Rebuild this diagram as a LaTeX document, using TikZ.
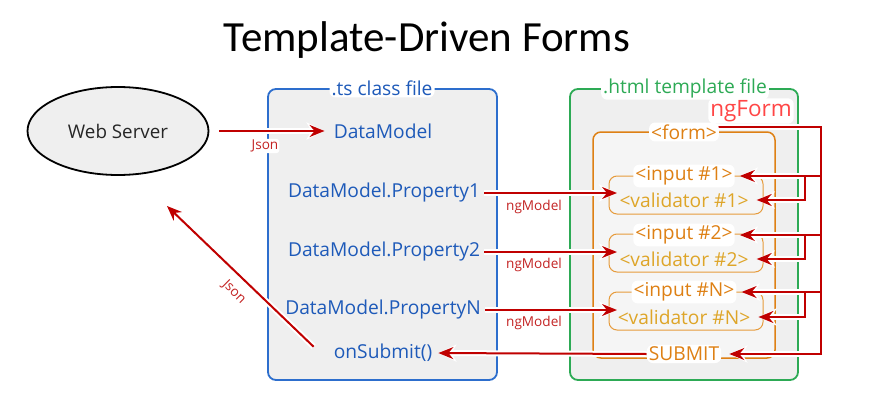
\documentclass[tikz,border=0pt]{standalone}
\usepackage{fontspec}
\setmainfont{Open Sans}
\newfontfamily\titlefont{Carlito}
\usetikzlibrary{shapes.geometric,arrows.meta,calc}
\pgfdeclarelayer{bg}
\pgfdeclarelayer{mid}
\pgfsetlayers{bg,mid,main}
\definecolor{tsblue}{RGB}{45,110,205}
\definecolor{txtblue}{RGB}{30,90,185}
\definecolor{hgreen}{RGB}{45,170,85}
\definecolor{forange}{RGB}{222,128,20}
\definecolor{vgold}{RGB}{222,165,40}
\definecolor{ibord}{RGB}{230,155,60}
\definecolor{wred}{RGB}{192,0,0}
\definecolor{ngred}{RGB}{255,70,70}
\definecolor{lblred}{RGB}{195,35,35}
\definecolor{boxgray}{RGB}{239,239,239}
\definecolor{formgray}{RGB}{245,245,245}
\newcommand\wirepaths[1]{%
  \draw[#1, shorten <=10pt, shorten >=7pt] (ws.east) -- (dm.west);
  \draw[#1, shorten <=2pt, shorten >=-8pt] (p1.east) -- (p1.east -| b1.west);
  \draw[#1, shorten <=2pt, shorten >=-8pt] (p2.east) -- (p2.east -| b2.west);
  \draw[#1, shorten <=2pt, shorten >=-8pt] (pn.east) -- (pn.east -| bn.west);
  \draw[#1, shorten >=4pt] (sub.west) -- (os.east);
  \draw[#1, shorten <=25pt] (os.south west) -- (jret);
  \draw[#1, shorten >=8pt] (ngs) -- (busT) -- (busT |- sub.east) -- (sub.east);
  \draw[#1, shorten >=5pt] (busT |- i1.east) -- (i1.east);
  \draw[#1, shorten >=5pt] (busT |- i2.east) -- (i2.east);
  \draw[#1, shorten >=5pt] (busT |- in.east) -- (in.east);
  \draw[#1, shorten >=6pt] (brx |- i1.east) |- (v1.east);
  \draw[#1, shorten >=6pt] (brx |- i2.east) |- (v2.east);
  \draw[#1, shorten >=6pt] (brx |- in.east) |- (vn.east);
}
\begin{document}
\begin{tikzpicture}[x=1pt,y=-1pt,
  box/.style={rounded corners=8pt, anchor=north west, inner sep=0pt, outer sep=0pt},
  txt/.style={font=\fontsize{19.2}{22}\selectfont, inner sep=2pt},
  lbl/.style={txt, fill=white, rounded corners=6pt},
  small/.style={font=\fontsize{13.6}{15}\selectfont, text=lblred, inner sep=1pt},
  haloA/.style={draw=white, line width=6pt, -{Stealth[length=18pt,width=17pt,inset=5pt]}},
  redA/.style={draw=wred, line width=2pt, -{Stealth[length=15pt,width=12pt,inset=5pt]}}
]
\useasboundingbox (0,0) rectangle (885,404);

% title
\node[font=\titlefont\fontsize{43}{46}\selectfont] (title) at (427,40) {Template-Driven Forms};

% boxes
\begin{pgfonlayer}{bg}
\node[box, draw=tsblue, line width=1.8pt, fill=boxgray, minimum width=229pt, minimum height=291pt] (tsbox) at (268,89) {};
\node[box, draw=hgreen, line width=1.8pt, fill=boxgray, minimum width=228pt, minimum height=291pt] (htbox) at (570,89) {};
\node[box, draw=forange, line width=1.5pt, fill=formgray, minimum width=182pt, minimum height=226pt] (fbox) at (593,132) {};
\node[box, draw=ibord, line width=1pt, fill=formgray, minimum width=154pt, minimum height=38pt] (b1) at (609,176) {};
\node[box, draw=ibord, line width=1pt, fill=formgray, minimum width=154pt, minimum height=38pt] (b2) at (609,234) {};
\node[box, draw=ibord, line width=1pt, fill=formgray, minimum width=154pt, minimum height=38pt] (bn) at (609,292) {};
\end{pgfonlayer}

% web server
\node[ellipse, draw=black, line width=1.8pt, fill=boxgray, minimum width=181pt, minimum height=88pt,
      font=\fontsize{18.8}{22}\selectfont, text=black!85] (ws) at (118,131) {Web Server};

% ts texts
\node[lbl, text=txtblue] (tsl) at (382,88) {.ts class file};
\node[txt, text=txtblue] (dm) at (383,131) {DataModel};
\node[txt, text=txtblue] (p1) at (384,193) {DataModel.Property1};
\node[txt, text=txtblue] (p2) at (384,252) {DataModel.Property2};
\node[txt, text=txtblue] (pn) at (383,310) {DataModel.PropertyN};
\node[txt, text=txtblue] (os) at (383,353) {onSubmit()};

% html texts
\node[lbl, text=hgreen] (htl) at (685,88) {.html template file};
\node[lbl, text=ngred, font=\fontsize{22.5}{25}\selectfont] (ng) at (751,111) {ngForm};
\node[lbl, text=forange] (fl) at (684,132) {<form>};
\node[lbl, text=forange] (i1) at (684,176) {<input \#1>};
\node[txt, text=vgold] (v1) at (684,200) {<validator \#1>};
\node[lbl, text=forange] (i2) at (684,235) {<input \#2>};
\node[txt, text=vgold] (v2) at (684,259) {<validator \#2>};
\node[lbl, text=forange] (in) at (684,292) {<input \#N>};
\node[txt, text=vgold] (vn) at (684,317) {<validator \#N>};
\node[lbl, text=forange] (sub) at (684,354) {SUBMIT};

% wire coordinates
\coordinate (ngs) at (717,127);
\coordinate (busT) at (821,127);
\coordinate (brx) at (805,127);
\coordinate (jret) at (167,206);

% labels
\node[small, fill=white, rounded corners=3pt] (j1) at (265,146) {Json};
\node[small] (m1) at (534,207) {ngModel};
\node[small] (m2) at (534,265) {ngModel};
\node[small] (m3) at (534,323) {ngModel};
\node[small, rotate=-44.6] (j2) at (234,292) {Json};

% wires
\begin{pgfonlayer}{mid}
\wirepaths{haloA}
\wirepaths{redA}
\end{pgfonlayer}
\end{tikzpicture}
\end{document}
